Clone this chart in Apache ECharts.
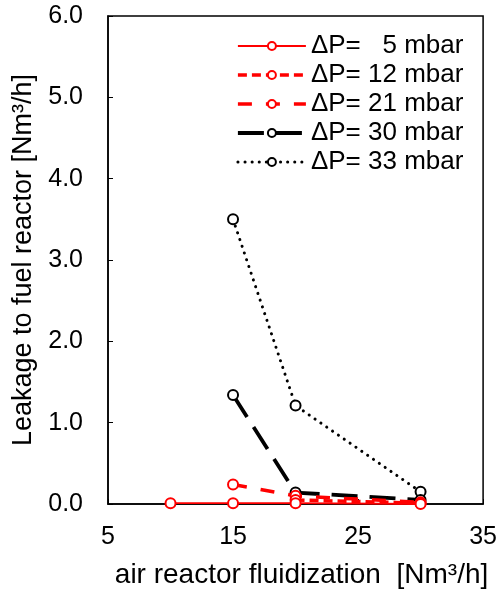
<!DOCTYPE html>
<html><head><meta charset="utf-8">
<script src="https://cdn.jsdelivr.net/npm/echarts@6/dist/echarts.min.js"></script>
<style>html,body{margin:0;padding:0;background:#fff}#c{width:500px;height:594px}</style>
</head><body><div id="c"></div>
<script>
const seriesNames = ['ΔP=   5 mbar','ΔP= 12 mbar','ΔP= 21 mbar','ΔP= 30 mbar','ΔP= 33 mbar'];
const x5 = [10, 15, 20, 30];
const y5 = [0.01, 0.01, 0.01, 0.0];
const x12 = [20, 30];
const y12 = [0.05, 0.01];
const x21 = [15, 20, 30];
const y21 = [0.24, 0.1, 0.02];
const x30 = [15, 20, 30];
const y30 = [1.34, 0.14, 0.05];
const x33 = [15, 20, 30];
const y33 = [3.5, 1.21, 0.15];
const xTicks = [5, 15, 25, 35];

const font = '"Liberation Sans", Arial, sans-serif';
function pts(xs, ys){ return xs.map((v,i)=>[v, ys[i]]); }
const styles = [
  {color:'#ff0000', width:1.8, type:'solid', cap:'butt'},
  {color:'#ff0000', width:3.5, type:[9,5], cap:'butt'},
  {color:'#ff0000', width:3.5, type:[14,14], cap:'butt'},
  {color:'#000000', width:3.8, type:[26,12], cap:'butt'},
  {color:'#000000', width:3, type:[0.1,7], cap:'round'}
];
const datas = [pts(x5,y5), pts(x12,y12), pts(x21,y21), pts(x30,y30), pts(x33,y33)];
const series = seriesNames.map((n,i)=>({
  name:n, type:'line', data:datas[i],
  symbol:'circle', symbolSize:10,
  itemStyle:{color:'#fff', borderColor:styles[i].color, borderWidth:2},
  lineStyle:{color:styles[i].color, width:styles[i].width, type:styles[i].type, cap:styles[i].cap},
  z: 10-i,
  animation:false
}));
const chart = echarts.init(document.getElementById('c'));
chart.setOption({
  animation:false,
  grid:{left:108, right:15, top:16, bottom:86, show:true, borderColor:'#000', borderWidth:1.5},
  legend:{
    orient:'vertical', left:231, top:28, itemWidth:68, itemHeight:10, itemGap:3,
    textStyle:{fontFamily:font, fontSize:26, color:'#000'},
    data:seriesNames.map((n,i)=>({name:n, lineStyle:{width:styles[i].width, type:styles[i].type, cap:styles[i].cap}}))
  },
  xAxis:{
    type:'value', min:5, max:35, interval:10,
    name:'air reactor fluidization  [Nm³/h]', nameLocation:'middle', nameGap:57,
    nameTextStyle:{fontFamily:font, fontSize:28, color:'#000', padding:[0,0,0,12]},
    axisLine:{lineStyle:{color:'#000', width:1.5}},
    axisTick:{inside:true, length:5, lineStyle:{color:'#000'}},
    axisLabel:{fontFamily:font, fontSize:25, color:'#000', margin:21,
      customValues: xTicks},
    splitLine:{show:false}
  },
  yAxis:{
    type:'value', min:0, max:6, interval:1,
    name:'Leakage to fuel reactor [Nm³/h]', nameLocation:'middle', nameGap:69,
    nameTextStyle:{fontFamily:font, fontSize:27, color:'#000'},
    axisLine:{show:true, lineStyle:{color:'#000', width:1.5}},
    axisTick:{show:true, inside:true, length:5, lineStyle:{color:'#000'}},
    axisLabel:{fontFamily:font, fontSize:25, color:'#000', margin:25,
      formatter:v=>v.toFixed(1)},
    splitLine:{show:false}
  },
  series:series
});
</script></body></html>
